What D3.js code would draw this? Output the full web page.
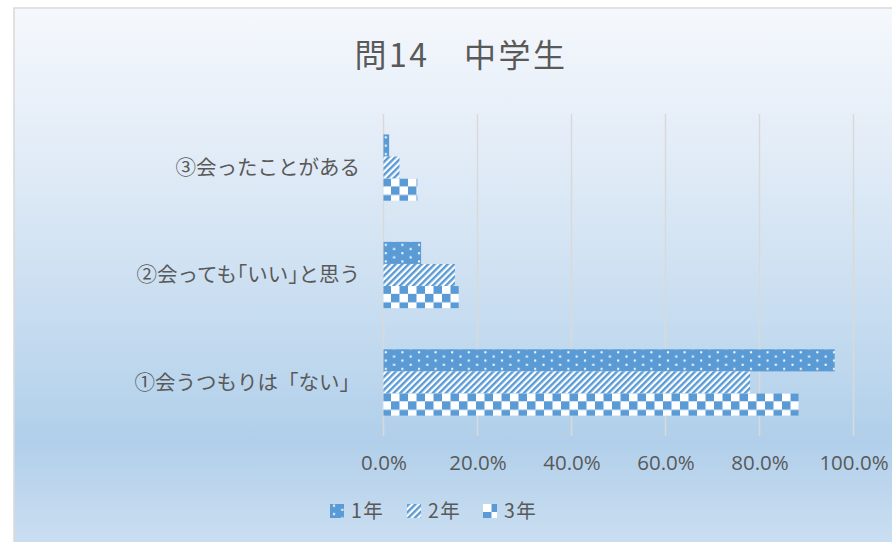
<!DOCTYPE html>
<html>
<head>
<meta charset="utf-8">
<script src="https://cdn.jsdelivr.net/npm/d3@7"></script>
<style>
  body { margin: 0; background: #fff; }
  svg { display: block; }
  text { fill: #595959; }
</style>
</head>
<body>
<div class="chart"></div>
<script>
const W = 892
const H = 542

// data
const categories = ["③会ったことがある", "②会っても｢いい｣と思う", "①会うつもりは「ない」"]
const seriesNames = ["1年", "2年", "3年"]
const grade1 = [0.012, 0.080, 0.960]
const grade2 = [0.034, 0.152, 0.780]
const grade3 = [0.072, 0.160, 0.883]
const tickValues = [0, 0.2, 0.4, 0.6, 0.8, 1.0]
const titleText = "問14　中学生"

const series = [grade1, grade2, grade3]
const blue = "#5b9bd5"

const plot = {top: 114, bottom: 436, left: 383.5, right: 853.5}

const svg = d3.select(".chart").append("svg")
    .attr("width", W)
    .attr("height", H)

const defs = svg.append("defs")

// background gradient
const grad = defs.append("linearGradient")
    .attr("id", "bg")
    .attr("gradientUnits", "userSpaceOnUse")
    .attr("x1", 0).attr("y1", 8).attr("x2", 0).attr("y2", 542)
const stops = [[0, "#f5f8fc"], [0.27, "#e2ecf7"], [0.49, "#cfe1f2"], [0.73, "#b8d4ec"], [0.81, "#b1cfea"], [1, "#cadef1"]]
stops.forEach(s => grad.append("stop").attr("offset", s[0]).attr("stop-color", s[1]))

// patterns: dots, wide upward diagonal, checker
const pDots = defs.append("pattern")
    .attr("id", "p0")
    .attr("patternUnits", "userSpaceOnUse")
    .attr("width", 16.6).attr("height", 8.3)
pDots.append("rect").attr("width", 16.6).attr("height", 8.3).attr("fill", blue)
pDots.append("rect").attr("x", 3).attr("y", 2).attr("width", 2).attr("height", 2).attr("fill", "#fff")
pDots.append("rect").attr("x", 11.3).attr("y", 6.2).attr("width", 2).attr("height", 2).attr("fill", "#fff")

const pDiag = defs.append("pattern")
    .attr("id", "p1")
    .attr("patternUnits", "userSpaceOnUse")
    .attr("width", 4.6).attr("height", 4.6)
    .attr("patternTransform", "rotate(45)")
pDiag.append("rect").attr("width", 4.6).attr("height", 4.6).attr("fill", "#fff")
pDiag.append("rect").attr("width", 2.4).attr("height", 4.6).attr("fill", blue)

const pCheck = defs.append("pattern")
    .attr("id", "p2")
    .attr("patternUnits", "userSpaceOnUse")
    .attr("width", 17).attr("height", 17)
    .attr("y", 1)
pCheck.append("rect").attr("width", 17).attr("height", 17).attr("fill", "#fff")
pCheck.append("rect").attr("width", 8.5).attr("height", 8.5).attr("fill", blue)
pCheck.append("rect").attr("x", 8.5).attr("y", 8.5).attr("width", 8.5).attr("height", 8.5).attr("fill", blue)

// chart area
svg.append("rect")
    .attr("x", 14).attr("y", 8)
    .attr("width", W + 20).attr("height", H + 20)
    .attr("fill", "url(#bg)")
    .attr("stroke", "#d9d9d9")
    .attr("stroke-width", 1.5)

const x = d3.scaleLinear()
    .domain([0, 1])
    .range([plot.left, plot.right])

const y = d3.scaleBand()
    .domain(categories)
    .range([plot.top, plot.bottom])
    .paddingInner(0.383)
    .paddingOuter(0.19)

const ySub = d3.scaleBand()
    .domain(seriesNames)
    .range([0, y.bandwidth()])

// gridlines
svg.append("g")
    .attr("class", "grid")
    .selectAll("line")
    .data(tickValues)
    .join("line")
    .attr("x1", d => x(d)).attr("x2", d => x(d))
    .attr("y1", plot.top).attr("y2", plot.bottom)
    .attr("stroke", "#d9d9d9")
    .attr("stroke-width", 1.5)

// x axis labels
const xAxis = d3.axisBottom(x)
    .tickValues(tickValues)
    .tickSize(0)
    .tickPadding(0)
    .tickFormat(d3.format(".1%"))

const gx = svg.append("g")
    .attr("transform", `translate(0, 455)`)
    .call(xAxis)
gx.select(".domain").remove()
gx.selectAll("text")
    .attr("font-family", "'Open Sans', 'Liberation Sans', sans-serif")
    .attr("font-size", 20.5)
    .attr("fill", "#595959")

// bars
const groups = svg.append("g")
    .selectAll("g")
    .data(categories)
    .join("g")
    .attr("transform", d => `translate(0, ${y(d)})`)

groups.selectAll("rect")
    .data((c, ci) => seriesNames.map((s, si) => ({s, si, v: series[si][ci]})))
    .join("rect")
    .attr("x", x(0))
    .attr("y", d => ySub(d.s))
    .attr("width", d => x(d.v) - x(0))
    .attr("height", ySub.bandwidth())
    .attr("fill", d => `url(#p${d.si})`)

// category labels
svg.append("g")
    .selectAll("text")
    .data(categories)
    .join("text")
    .attr("x", 360)
    .attr("y", d => y(d) + y.bandwidth() / 2)
    .attr("dy", "0.36em")
    .attr("text-anchor", "end")
    .attr("font-family", "'Noto Sans CJK JP', sans-serif")
    .attr("font-size", 20.5)
    .text(d => d)

// title
svg.append("text")
    .attr("x", 461)
    .attr("y", 67)
    .attr("text-anchor", "middle")
    .attr("font-family", "'Noto Sans CJK JP', sans-serif")
    .attr("font-size", 32)
    .attr("letter-spacing", 2.5)
    .text(titleText)

// legend
const legendX = [330, 407, 483]
const legend = svg.append("g")
    .selectAll("g")
    .data(seriesNames)
    .join("g")
    .attr("transform", (d, i) => `translate(${legendX[i]}, 511)`)

legend.append("rect")
    .attr("x", 0).attr("y", -7)
    .attr("width", 14).attr("height", 14)
    .attr("fill", (d, i) => `url(#p${i})`)

legend.append("text")
    .attr("x", 21)
    .attr("dy", "0.36em")
    .attr("font-family", "'Noto Sans CJK JP', sans-serif")
    .attr("font-size", 19.5)
    .attr("letter-spacing", 1.5)
    .text(d => d)
</script>
</body>
</html>
